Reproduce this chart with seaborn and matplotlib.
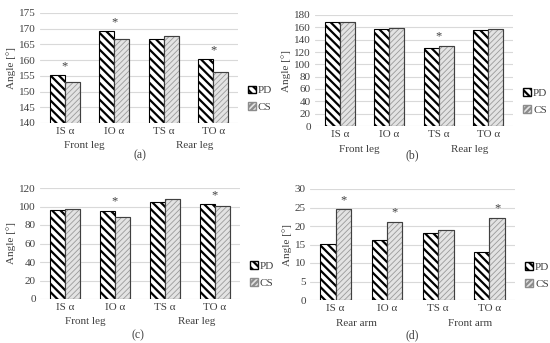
import matplotlib
matplotlib.use("Agg")
import matplotlib.pyplot as plt
import seaborn as sns
import pandas as pd
import numpy as np
from matplotlib.patches import Patch
from matplotlib.transforms import offset_copy

categories = ["IS α", "IO α", "TS α", "TO α"]
groups = ["PD", "CS"]

a_pd = [155.2, 169.2, 166.8, 160.3]
a_cs = [153.0, 166.8, 167.8, 156.3]
a_star = [True, True, False, True]

b_pd = [168.0, 157.0, 126.0, 156.0]
b_cs = [168.0, 159.5, 130.0, 157.5]
b_star = [False, False, True, False]

c_pd = [96.5, 95.5, 105.0, 102.5]
c_cs = [97.5, 89.0, 108.0, 100.5]
c_star = [False, True, False, True]

d_pd = [15.2, 16.2, 18.1, 12.9]
d_cs = [24.5, 21.2, 18.9, 22.2]
d_star = [True, True, False, True]

group_labels_leg = ["Front leg", "Rear leg"]
group_labels_arm = ["Rear arm", "Front arm"]
panel_letters = ["(a)", "(b)", "(c)", "(d)"]

sns.set_theme(style="white")
plt.rcParams['font.family'] = ['Liberation Serif', 'DejaVu Serif']
plt.rcParams['hatch.linewidth'] = 1.6

fig = plt.figure(figsize=(5.5, 3.43), dpi=100)
W, H = 550, 343

# axes boxes in pixels: left, top, right, bottom
boxes = [
    (40, 13, 238, 123),
    (315, 15, 513, 126),
    (40, 188, 240, 299),
    (310, 189, 515, 300),
]
letter_pos = [(140, 155), (412, 155), (138, 335), (412, 335)]
panels = [
    (a_pd, a_cs, a_star, (140, 175), np.arange(140, 176, 5), group_labels_leg, "group"),
    (b_pd, b_cs, b_star, (0, 180), np.arange(0, 181, 20), group_labels_leg, "group"),
    (c_pd, c_cs, c_star, (0, 120), np.arange(0, 121, 20), group_labels_leg, "group"),
    (d_pd, d_cs, d_star, (0, 30), np.arange(0, 31, 5), group_labels_arm, "cs"),
]
txt_col = "#404040"

for i, ((pd_v, cs_v, stars, ylim, yticks, glabels, star_mode), box) in enumerate(zip(panels, boxes)):
    l, t, r, b = box
    ax = fig.add_axes([l / W, 1 - b / H, (r - l) / W, (b - t) / H])
    df = pd.DataFrame({
        "cat": categories * 2,
        "grp": ["PD"] * 4 + ["CS"] * 4,
        "val": list(pd_v) + list(cs_v),
    })
    sns.barplot(data=df, x="cat", y="val", hue="grp", order=categories,
                hue_order=groups, width=0.6, ax=ax, legend=False,
                palette=["white", "#e3e3e3"], saturation=1, zorder=3)
    for bar in ax.containers[0]:
        bar.set_hatch("\\\\\\\\")
        bar.set_edgecolor("black")
        bar.set_linewidth(0.8)
    for bar in ax.containers[1]:
        bar.set_hatch("//////")
        bar.set_edgecolor("#9a9a9a")
        bar.set_linewidth(0.8)
        if hasattr(bar, "set_hatch_linewidth"):
            bar.set_hatch_linewidth(0.6)
    for bar in ax.containers[1]:
        ax.add_patch(plt.Rectangle(bar.get_xy(), bar.get_width(), bar.get_height(),
                                   fill=False, edgecolor="#404040", linewidth=0.8, zorder=4))
    ax.set_ylim(*ylim)
    ax.set_xlim(-0.5, 3.5)
    ax.set_yticks(yticks)
    ax.yaxis.grid(True, color="#d9d9d9", linewidth=0.8, zorder=0)
    ax.set_axisbelow(True)
    for s in ax.spines.values():
        s.set_visible(False)
    ax.set_xlabel("")
    ax.set_ylabel("Angle [°]", fontsize=8, color=txt_col, labelpad=2)
    ax.tick_params(axis="both", length=0, labelsize=8, colors=txt_col, pad=3)
    rng = ylim[1] - ylim[0]
    for k, st in enumerate(stars):
        if st:
            if star_mode == "cs":
                x = k + 0.15
                y = cs_v[k] + rng * 0.03
            else:
                x = k
                y = max(pd_v[k], cs_v[k]) + rng * 0.03
            ax.text(x, y, "*", ha="center", va="bottom", fontsize=9, color=txt_col)
    gx = [0.4, 2.63]
    trans = offset_copy(ax.get_xaxis_transform(), fig=fig, y=-23, units="dots")
    for gxi, gl in zip(gx, glabels):
        ax.text(gxi, 0, gl, transform=trans, ha="center",
                va="center", fontsize=8, color=txt_col)
    handles = [Patch(facecolor="white", edgecolor="black", hatch="\\\\\\\\", label="PD"),
               Patch(facecolor="#e3e3e3", edgecolor="#8c8c8c", hatch="//////", label="CS")]
    ax.legend(handles=handles, loc="center left", bbox_to_anchor=(1.0, 0.22),
              frameon=False, fontsize=8, handlelength=0.7, handleheight=0.7,
              handletextpad=0.2, labelspacing=0.6, labelcolor=txt_col)
    lx, ly = letter_pos[i]
    fig.text(lx / W, 1 - ly / H, panel_letters[i],
             ha="center", va="center", fontsize=8.5, color=txt_col)

fig.savefig("out.png", dpi=100)
